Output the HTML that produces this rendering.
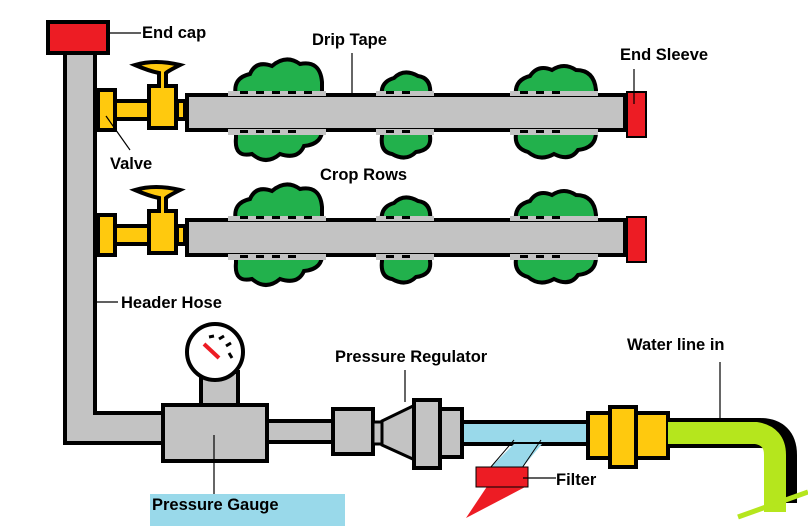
<!DOCTYPE html>
<html><head><meta charset="utf-8"><style>
html,body{margin:0;padding:0;background:#fff;}
svg{display:block;}
text{font-family:"Liberation Sans",sans-serif;font-weight:bold;font-size:16.5px;fill:#000;}
</style></head><body>
<svg width="808" height="532" viewBox="0 0 808 532" xmlns="http://www.w3.org/2000/svg">
<defs>
<g id="row">
  <g fill="#22b14c" stroke="#000" stroke-width="4">
    <path d="M236,0 q-4,-18 14,-22 q6,-14 22,-8 q14,-12 28,-2 q20,-4 22,18 l0,44 q2,18 -18,20 q-6,14 -24,8 q-14,12 -28,0 q-18,4 -16,-16 z"/>
    <path d="M382,0 q-2,-14 12,-18 q10,-10 24,-2 q14,2 12,20 l0,40 q2,14 -14,16 q-10,10 -24,2 q-12,-2 -10,-18 z"/>
    <path d="M516,0 q-2,-16 14,-20 q8,-12 22,-6 q12,-8 24,0 q18,0 20,20 l0,42 q0,16 -18,18 q-8,12 -24,4 q-14,8 -26,-2 q-14,-4 -12,-18 z"/>
  </g>
  <rect x="187" y="-1" width="438" height="35" fill="#c3c3c3" stroke="#000" stroke-width="4"/>
  <g fill="#c3c3c3">
    <rect x="228" y="-5" width="98" height="5"/><rect x="228" y="33" width="98" height="6"/>
    <rect x="376" y="-5" width="58" height="5"/><rect x="376" y="33" width="58" height="6"/>
    <rect x="510" y="-5" width="88" height="5"/><rect x="510" y="33" width="88" height="6"/>
  </g>
  <g fill="#000">
    <rect x="240" y="-5" width="8" height="3"/><rect x="256" y="-5" width="8" height="3"/><rect x="272" y="-5" width="8" height="3"/><rect x="288" y="-5" width="8" height="3"/><rect x="304" y="-5" width="8" height="3"/>
    <rect x="240" y="34" width="8" height="3"/><rect x="256" y="34" width="8" height="3"/><rect x="272" y="34" width="8" height="3"/><rect x="288" y="34" width="8" height="3"/>
    <rect x="386" y="-5" width="8" height="3"/><rect x="402" y="-5" width="8" height="3"/><rect x="386" y="34" width="8" height="3"/><rect x="402" y="34" width="8" height="3"/>
    <rect x="520" y="-5" width="8" height="3"/><rect x="536" y="-5" width="8" height="3"/><rect x="552" y="-5" width="8" height="3"/><rect x="520" y="34" width="8" height="3"/><rect x="536" y="34" width="8" height="3"/><rect x="552" y="34" width="8" height="3"/>
  </g>
  <g fill="#ffc90e" stroke="#000" stroke-width="4">
    <rect x="98" y="-6" width="17" height="40"/>
    <rect x="115" y="5" width="35" height="18"/>
    <path d="M135,-31 q20,-6 45,0 q-12,6 -14,8 l0,13 l10,0 l0,42 l-27,0 l0,-42 l10,0 l0,-13 q-10,-2 -24,-8 z"/>
    <rect x="177" y="5" width="8" height="18"/>
  </g>
  <rect x="627" y="-4" width="19" height="45" fill="#ed1c24" stroke="#000" stroke-width="2"/>
</g>
</defs>
<use href="#row" transform="translate(0,96)"/>
<use href="#row" transform="translate(0,221)"/>
<path d="M80,52 V428 H170" fill="none" stroke="#000" stroke-width="34"/>
<path d="M80,50 V428 H170" fill="none" stroke="#c3c3c3" stroke-width="26"/>
<rect x="48" y="22" width="60" height="31" fill="#ed1c24" stroke="#000" stroke-width="4"/>
<rect x="262" y="421" width="72" height="21" fill="#c3c3c3" stroke="#000" stroke-width="4"/>
<rect x="201" y="372" width="37" height="34" fill="#c3c3c3" stroke="#000" stroke-width="4"/>
<circle cx="215" cy="352" r="28" fill="#fff" stroke="#000" stroke-width="4"/>
<line x1="204" y1="344" x2="219" y2="358" stroke="#ed1c24" stroke-width="4"/>
<g stroke="#000" stroke-width="3"><line x1="209" y1="337" x2="214" y2="336"/><line x1="219" y1="339" x2="224" y2="336"/><line x1="226" y1="346" x2="231" y2="343"/><line x1="229" y1="353" x2="232" y2="358"/></g>
<rect x="163" y="405" width="104" height="56" fill="#c3c3c3" stroke="#000" stroke-width="4"/>
<rect x="333" y="409" width="40" height="45" fill="#c3c3c3" stroke="#000" stroke-width="4"/>
<rect x="373" y="422" width="9" height="22" fill="#c3c3c3" stroke="#000" stroke-width="3"/>
<path d="M382,421 L415,405 V460 L382,445 Z" fill="#c3c3c3" stroke="#000" stroke-width="3"/>
<rect x="414" y="400" width="26" height="68" fill="#c3c3c3" stroke="#000" stroke-width="4"/>
<rect x="440" y="409" width="22" height="48" fill="#c3c3c3" stroke="#000" stroke-width="4"/>
<rect x="462" y="422" width="127" height="22" fill="#99d9ea" stroke="#000" stroke-width="4"/>
<path d="M514,444 L542,444 L522,468 L490,468 Z" fill="#99d9ea"/>
<line x1="514" y1="440" x2="490" y2="468" stroke="#000" stroke-width="1"/>
<line x1="541" y1="440" x2="522" y2="468" stroke="#000" stroke-width="1"/>
<path d="M488,485 L466,518 L527,486 Z" fill="#ed1c24"/>
<rect x="476" y="467" width="52" height="20" fill="#ed1c24" stroke="#000" stroke-width="1"/>
<g fill="#ffc90e" stroke="#000" stroke-width="4">
<rect x="588" y="413" width="22" height="45"/>
<rect x="610" y="407" width="26" height="60"/>
<rect x="636" y="413" width="32" height="45"/>
</g>
<path d="M668,433 H760 Q782,433 782,455 V503" fill="none" stroke="#000" stroke-width="30"/>
<path d="M668,433 H756 Q775,436 775,455 V512" fill="none" stroke="#b5e61d" stroke-width="22"/>
<rect x="766" y="440" width="12" height="70" fill="#b5e61d"/>
<line x1="738" y1="517" x2="808" y2="492" stroke="#b5e61d" stroke-width="5"/>
<g stroke="#000" stroke-width="1.2" fill="none">
<line x1="110" y1="33" x2="141" y2="33"/>
<line x1="352" y1="53" x2="352" y2="94"/>
<line x1="634" y1="69" x2="634" y2="104"/>
<line x1="106" y1="116" x2="130" y2="150"/>
<line x1="97" y1="302" x2="118" y2="302"/>
<line x1="214" y1="435" x2="214" y2="495"/>
<line x1="405" y1="370" x2="405" y2="402"/>
<line x1="720" y1="362" x2="720" y2="418"/>
<line x1="523" y1="478" x2="556" y2="478"/>
</g>
<rect x="150" y="494" width="195" height="32" fill="#99d9ea"/>
<text x="142" y="38">End cap</text>
<text x="312" y="45">Drip Tape</text>
<text x="620" y="60">End Sleeve</text>
<text x="110" y="169">Valve</text>
<text x="320" y="180">Crop Rows</text>
<text x="121" y="308">Header Hose</text>
<text x="335" y="362">Pressure Regulator</text>
<text x="627" y="350">Water line in</text>
<text x="556" y="485">Filter</text>
<text x="152" y="510">Pressure Gauge</text>
</svg>
</body></html>
